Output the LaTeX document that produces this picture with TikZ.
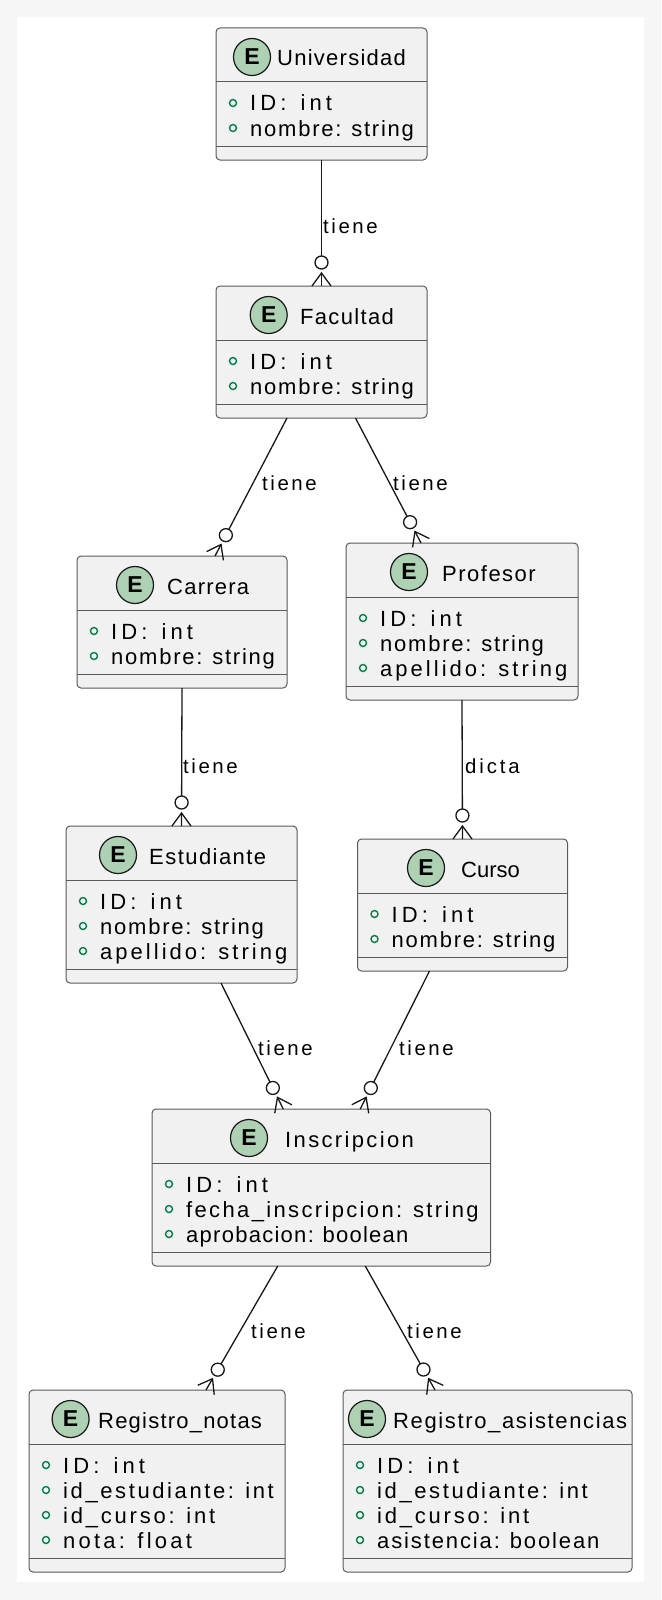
\documentclass[tikz,border=0pt]{standalone}
\usepackage{fontspec}
\setmainfont{Liberation Sans}
\usetikzlibrary{calc}
\definecolor{bgout}{RGB}{246,246,246}
\definecolor{boxfill}{RGB}{241,241,241}
\definecolor{boxline}{RGB}{90,90,90}
\definecolor{spotfill}{RGB}{173,209,178}
\definecolor{darkline}{RGB}{24,24,24}
\definecolor{vis}{RGB}{3,128,72}

\newcount\sprn
\newdimen\sprcw
\def\sprcount#1{\ifx#1\relax\else\advance\sprn by 1\relax\expandafter\sprcount\fi}
\def\sprfirst#1{#1\sprnext}
\def\sprnext#1{\ifx#1\relax\else\hfil#1\expandafter\sprnext\fi}
\newcommand\spr[1]{\sprn=0\relax\sprcount#1\relax\makebox[\dimexpr\sprcw*\sprn\relax][s]{\sprfirst#1\relax}}

\tikzset{
  ebox/.style={draw=boxline, fill=boxfill, rounded corners=4pt, line width=1pt, inner sep=0pt, outer sep=0pt, anchor=north west},
  sepline/.style={draw=boxline, line width=1pt},
  spot/.style={circle, draw=darkline, fill=spotfill, line width=1.2pt, minimum size=37pt, inner sep=0pt},
  spotletter/.style={inner sep=0pt, font=\fontsize{23}{23}\selectfont\bfseries},
  etext/.style={inner sep=0pt, anchor=base west, font=\fontsize{22}{22}\selectfont},
  vbullet/.style={draw=vis, line width=1.4pt},
  conn/.style={draw=darkline, line width=1.3pt},
  lbl/.style={inner sep=0pt, anchor=base west, font=\fontsize{20.4}{20.4}\selectfont},
}

% #1 name, #2 left, #3 top, #4 width, #5 rows, #6 spot x, #7 title x, #8 title, #9 rows
\newcommand\entity[9]{%
  \pgfmathsetmacro\eh{107+25*(#5-1)}%
  \node[ebox, minimum width=#4pt, minimum height=\eh pt] (#1) at (#2,#3) {};
  \draw[sepline] (#2,#3+54) -- ++(#4,0);
  \draw[sepline] (#2,#3+\eh-14) -- ++(#4,0);
  \node[spot] (#1-spot) at (#6,#3+29) {};
  \node[spotletter] (#1-E) at (#1-spot) {E};
  \node[etext] (#1-title) at (#7,#3+38) {\sprcw=11.7pt\relax\spr{#8}};
  \foreach \ritem [count=\k] in {#9} {
    \draw[vbullet] (#2+17,#3+50+25*\k) circle (3.5pt);
    \node[etext] at (#2+34,#3+58+25*\k) {\sprcw=11.7pt\relax\expandafter\spr\expandafter{\ritem}};
  }
}

% crow's foot connector: #1 start coordinate, #2 end coordinate
\newcommand\crow[2]{%
  \draw[conn] (#1) -- ($(#2)!30pt!(#1)$);
  \draw[conn] ($(#2)!23.5pt!(#1)$) circle (6.5pt);
  \draw[conn] ($(#2)!9.5pt!90:(#1)$) -- ($(#2)!13pt!(#1)$) -- ($(#2)!9.5pt!-90:(#1)$);
  \draw[conn] ($(#2)!13pt!(#1)$) -- (#2);
}

\begin{document}
\begin{tikzpicture}[x=1pt,y=-1pt]
\useasboundingbox (0,0) rectangle (661,1600);
\fill[bgout] (0,0) rectangle (661,1600);
\fill[white] (17,17) rectangle (644,1582);

\entity{univ}{216}{28}{211}{2}{252}{277}{Universidad}{ID:~int,nombre:~string}
\entity{fac}{216}{286}{211}{2}{268.7}{300}{Facultad}{ID:~int,nombre:~string}
\entity{carrera}{77}{556}{210}{2}{135}{167}{Carrera}{ID:~int,nombre:~string}
\entity{prof}{346}{543}{232}{3}{409}{442}{Profesor}{ID:~int,nombre:~string,apellido:~string}
\entity{estud}{66}{826}{231}{3}{118}{149}{Estudiante}{ID:~int,nombre:~string,apellido:~string}
\entity{curso}{357.5}{839}{210}{2}{426}{461}{Curso}{ID:~int,nombre:~string}
\entity{inscr}{152}{1109}{338.5}{3}{249}{285}{Inscripcion}{ID:~int,fecha\_inscripcion:~string,aprobacion:~boolean}
\entity{rnotas}{29}{1390}{256}{4}{70.6}{98}{Registro\_notas}{ID:~int,id\_estudiante:~int,id\_curso:~int,nota:~float}
\entity{rasist}{343}{1390}{289}{4}{367}{393}{Registro\_asistencias}{ID:~int,id\_estudiante:~int,id\_curso:~int,asistencia:~boolean}

% connector end points
\coordinate (s1) at (univ.south);
\coordinate (e1) at (fac.north);
\coordinate (s2) at ([xshift=-34.5pt]fac.south);
\coordinate (e2) at ([xshift=33pt]carrera.north);
\coordinate (s3) at ([xshift=34pt]fac.south);
\coordinate (e3) at ([xshift=-41pt]prof.north);
\coordinate (s4) at (carrera.south);
\coordinate (e4) at (estud.north);
\coordinate (s5) at (prof.south);
\coordinate (e5) at (curso.north);
\coordinate (s6) at ([xshift=39.5pt]estud.south);
\coordinate (e6) at ([xshift=-38pt]inscr.north);
\coordinate (s7) at ([xshift=-33pt]curso.south);
\coordinate (e7) at ([xshift=39pt]inscr.north);
\coordinate (s8) at ([xshift=-43.5pt]inscr.south);
\coordinate (e8) at ([xshift=49pt]rnotas.north);
\coordinate (s9) at ([xshift=44pt]inscr.south);
\coordinate (e9) at ([xshift=-52.5pt]rasist.north);

\crow{s1}{e1}
\crow{s2}{e2}
\crow{s3}{e3}
\crow{s4}{e4}
\crow{s5}{e5}
\crow{s6}{e6}
\crow{s7}{e7}
\crow{s8}{e8}
\crow{s9}{e9}

% labels
\node[lbl] (l1) at (323,233) {\sprcw=10.9pt\relax\spr{tiene}};
\node[lbl] (l2) at (262,490) {\sprcw=10.9pt\relax\spr{tiene}};
\node[lbl] (l3) at (393,490) {\sprcw=10.9pt\relax\spr{tiene}};
\node[lbl] (l4) at (183,773) {\sprcw=10.9pt\relax\spr{tiene}};
\node[lbl] (l5) at (465,773) {\sprcw=10.9pt\relax\spr{dicta}};
\node[lbl] (l6) at (258,1055) {\sprcw=10.9pt\relax\spr{tiene}};
\node[lbl] (l7) at (399,1055) {\sprcw=10.9pt\relax\spr{tiene}};
\node[lbl] (l8) at (251,1338) {\sprcw=10.9pt\relax\spr{tiene}};
\node[lbl] (l9) at (407,1338) {\sprcw=10.9pt\relax\spr{tiene}};
\end{tikzpicture}
\end{document}
